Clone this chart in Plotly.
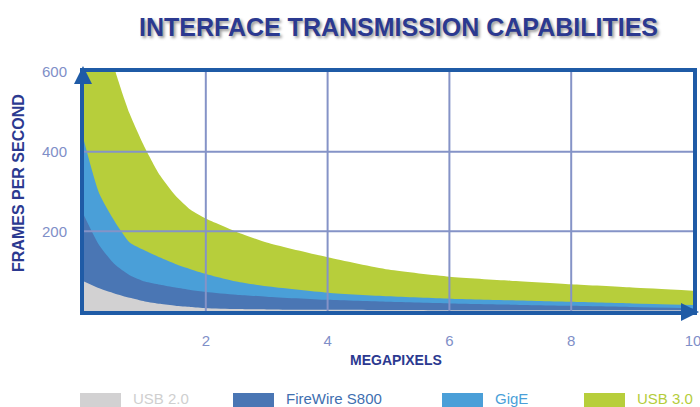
import plotly.graph_objects as go

# ---- data ----
megapixels = [0, 0.25, 0.5, 0.75, 1.0, 1.25, 1.5, 1.75, 2.0, 2.5, 3, 4, 5, 6, 7, 8, 9, 10]
usb30 = [1000, 800, 610, 495, 410, 340, 290, 254, 232, 199, 172, 135, 104, 86, 76, 67, 59, 51]
gige = [427, 295, 226, 172, 152, 134, 118, 105, 93, 74, 62, 46, 37, 31, 27, 23, 19, 15]
firewire = [240, 165, 118, 90, 74, 66, 59, 53, 48, 41, 36, 28, 23, 19, 16, 13, 10, 7]
usb20 = [74, 57, 44, 33, 24, 18, 13, 10, 7, 5, 4, 3, 2.5, 2, 2, 2, 2, 2]

series_names = ["USB 2.0", "FireWire S800", "GigE", "USB 3.0"]
x_ticks = [2, 4, 6, 8, 10]
y_ticks = [200, 400, 600]

# ---- styles ----
colors = {"USB 2.0": "#d2d1d2", "FireWire S800": "#4a76b4", "GigE": "#4a9fd8", "USB 3.0": "#b7ce3b"}
text_colors = {"USB 2.0": "#cfcfcf", "FireWire S800": "#3f6fb0", "GigE": "#4a9fd8", "USB 3.0": "#b5cd3b"}
legend_swatch_px = [80, 233, 442, 584]
frame = "#1f5ba6"
grid = "#8593c7"
tickc = "#7f8fc8"
navy = "#2b3990"
FONT = "Liberation Sans, Arial, sans-serif"

W, H = 700, 407
L, R, T, B = 84, 7, 72, 96
pw, ph = W - L - R, H - T - B


def px_x(p):
    return (p - L) / pw


def px_y(p):
    return (H - B - p) / ph


values = {"USB 3.0": usb30, "GigE": gige, "FireWire S800": firewire, "USB 2.0": usb20}

fig = go.Figure()
for name in ["USB 3.0", "GigE", "FireWire S800", "USB 2.0"]:
    fig.add_trace(go.Scatter(
        x=megapixels, y=values[name], name=name, mode="lines",
        line=dict(width=0, color=colors[name], shape="spline", smoothing=0.6), fill="tozeroy",
        fillcolor=colors[name], showlegend=False, hoverinfo="x+y+name",
    ))

shapes = []
for xv in x_ticks[:-1]:
    shapes.append(dict(type="line", xref="x", yref="y", x0=xv, x1=xv, y0=0, y1=600,
                       line=dict(color=grid, width=2), layer="above"))
for yv in y_ticks[:-1]:
    shapes.append(dict(type="line", xref="x", yref="y", x0=0, x1=10, y0=yv, y1=yv,
                       line=dict(color=grid, width=2), layer="above"))

annotations = [
    dict(text="<b>INTERFACE TRANSMISSION CAPABILITIES</b>", xref="paper", yref="paper",
         x=px_x(398), y=px_y(27), showarrow=False, xanchor="center", yanchor="middle",
         font=dict(family=FONT, size=25, color=navy, shadow="2px 2px 3px rgba(0,0,0,0.4)")),
    dict(text="<b>FRAMES PER SECOND</b>", xref="paper", yref="paper", textangle=-90,
         x=px_x(18), y=px_y(183), showarrow=False, xanchor="center", yanchor="middle",
         font=dict(family=FONT, size=16, color=navy)),
    dict(text="<b>MEGAPIXELS</b>", xref="paper", yref="paper",
         x=px_x(396), y=px_y(360), showarrow=False, xanchor="center", yanchor="middle",
         font=dict(family=FONT, size=14, color=navy)),
    # axis arrowheads
    dict(text="", xref="x", yref="y", x=0, y=600, ax=0, ay=14, showarrow=True,
         arrowhead=2, arrowsize=0.9, arrowwidth=4, arrowcolor=frame, yshift=6, xshift=-1),
    dict(text="", xref="x", yref="y", x=10, y=0, ax=-14, ay=0, showarrow=True,
         arrowhead=2, arrowsize=0.9, arrowwidth=4, arrowcolor=frame, xshift=6, yshift=-1),
]

for name, sx in zip(series_names, legend_swatch_px):
    shapes.append(dict(type="rect", xref="paper", yref="paper",
                       x0=px_x(sx), x1=px_x(sx + 41), y0=px_y(393), y1=px_y(408),
                       fillcolor=colors[name], line=dict(width=0)))
    annotations.append(dict(text=name, xref="paper", yref="paper", x=px_x(sx + 51), y=px_y(398),
                            xanchor="left", yanchor="middle", showarrow=False,
                            font=dict(family=FONT, size=15, color=text_colors[name])))

fig.update_layout(
    width=W, height=H, margin=dict(l=L, r=R, t=T, b=B, autoexpand=False),
    paper_bgcolor="white", plot_bgcolor="white",
    showlegend=False, shapes=shapes, annotations=annotations,
    xaxis=dict(range=[0, 10], tickvals=x_ticks, showgrid=False, zeroline=False,
               showline=True, mirror=True, linecolor=frame, linewidth=4,
               ticks="", ticklabelstandoff=13, automargin=False, ticklabeloverflow="allow",
               tickfont=dict(family=FONT, size=15, color=tickc)),
    yaxis=dict(range=[0, 600], tickvals=y_ticks, showgrid=False, zeroline=False,
               showline=True, mirror=True, linecolor=frame, linewidth=4,
               ticks="", ticklabelstandoff=10, automargin=False, ticklabeloverflow="allow",
               tickfont=dict(family=FONT, size=15, color=tickc)),
)

fig.write_html("out.html", config={"displayModeBar": False},
               post_script="document.body.style.margin='0px';")
